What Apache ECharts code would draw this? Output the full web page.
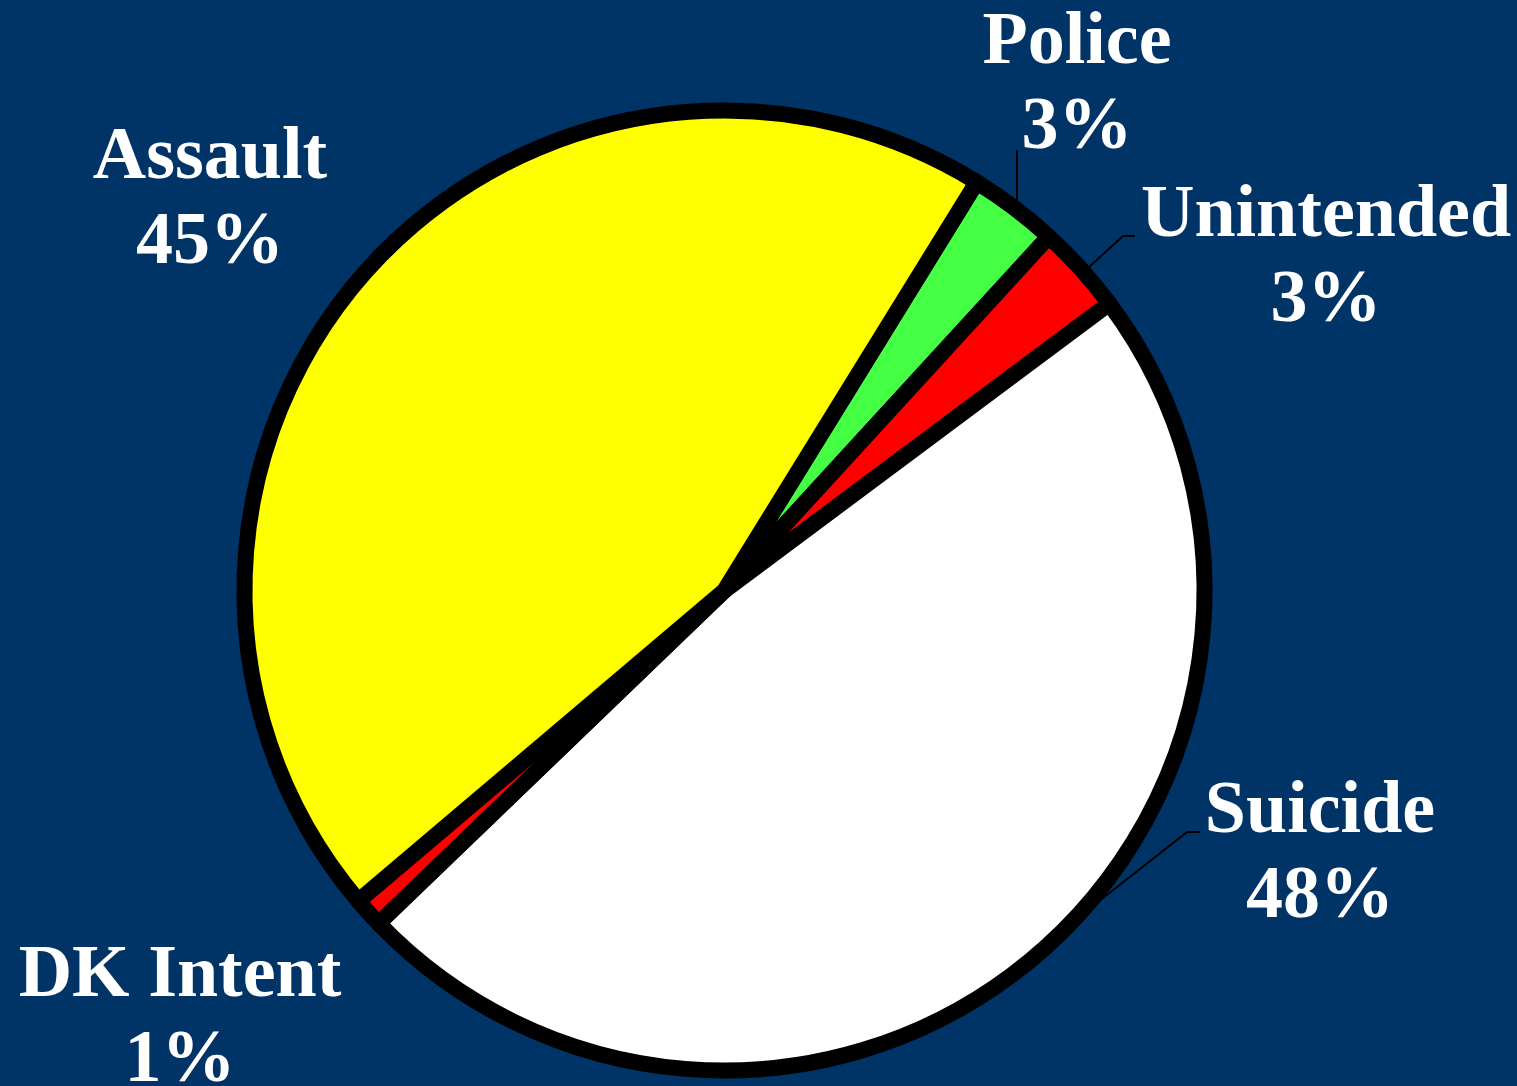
<!DOCTYPE html>
<html>
<head>
<meta charset="utf-8">
<title>Intent</title>
<script src="https://cdn.jsdelivr.net/npm/echarts@6/dist/echarts.min.js"></script>
<style>
  html, body { margin: 0; padding: 0; background: #003366; }
  #chart { width: 1517px; height: 1086px; }
</style>
</head>
<body>
<div id="chart"></div>
<script>
// Share of deaths by intent, in percent (clockwise from the upper right)
const categories = ['Police', 'Unintended', 'Suicide', 'DK Intent', 'Assault'];
const shares = [3, 3, 48, 1, 45];
const sliceColors = ['#44ff44', '#ff0000', '#ffffff', '#ff0000', '#ffff00'];

// Where each two-line label sits (block centre) and its optional leader line
const labelSpots = {
  'Police':     { x: 1077, y: 86,  line: [[1017, 200], [1017, 150]] },
  'Unintended': { x: 1326, y: 259, line: [[1088, 268], [1123, 236], [1135, 236]] },
  'Suicide':    { x: 1320, y: 855, line: [[1098, 902], [1187, 832], [1200, 832]] },
  'DK Intent':  { x: 180,  y: 1019 },
  'Assault':    { x: 210,  y: 201 }
};

const chart = echarts.init(document.getElementById('chart'), null, { renderer: 'canvas' });

chart.setOption({
  backgroundColor: '#003366',
  animation: false,
  series: [{
    type: 'pie',
    center: [724.5, 590.5],
    radius: 480,
    startAngle: 58.3,
    clockwise: true,
    avoidLabelOverlap: false,
    emphasis: { disabled: true },
    itemStyle: { borderColor: '#000000', borderWidth: 16 },
    label: {
      show: true,
      formatter: '{b}\n{c}%',
      color: '#ffffff',
      fontFamily: '"Liberation Serif", "Times New Roman", serif',
      fontWeight: 'bold',
      fontSize: 74,
      lineHeight: 85,
      align: 'center'
    },
    labelLine: {
      show: true,
      lineStyle: { color: '#000000', width: 2 }
    },
    labelLayout: function (params) {
      const name = categories[params.dataIndex];
      const spot = labelSpots[name];
      const out = { x: spot.x, y: spot.y, align: 'center', verticalAlign: 'middle' };
      out.labelLinePoints = spot.line ? spot.line : [[spot.x, spot.y], [spot.x, spot.y]];
      return out;
    },
    data: categories.map(function (name, i) {
      const item = {
        name: name,
        value: shares[i],
        itemStyle: { color: sliceColors[i] }
      };
      if (!labelSpots[name].line) {
        item.labelLine = { show: false };
      }
      return item;
    })
  }]
});
</script>
</body>
</html>
